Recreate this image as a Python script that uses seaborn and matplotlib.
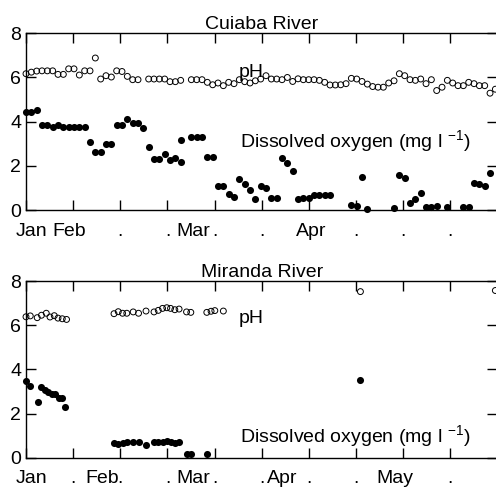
import numpy as np
import matplotlib
matplotlib.use("Agg")
import matplotlib.pyplot as plt
import matplotlib.transforms as mtransforms
import seaborn as sns

# ---------------- Cuiaba River (sampling day, value) ----------------
cuiaba_ph_day = [0, 1, 2, 3, 4, 5, 6, 7, 8, 9, 10, 11, 12, 13, 14, 15, 16, 17, 18, 19, 20, 21,
                 23, 24, 25, 26, 27, 28, 29,
                 31, 32, 33, 34, 35, 36, 37, 38, 39, 40, 41,
                 42, 43, 44, 45, 46, 47, 48, 49, 50, 51, 52, 53, 54, 55, 56, 57, 58, 59, 60,
                 61, 62, 63, 64, 65, 66, 67, 68, 69, 70, 71, 72, 73, 74, 75, 76, 77, 78, 79,
                 80, 81, 82, 83, 84, 85, 86, 87, 88]
cuiaba_ph = [6.16, 6.23, 6.28, 6.29, 6.29, 6.29, 6.13, 6.13, 6.38, 6.38, 6.10, 6.29, 6.29,
             6.87, 5.92, 6.07, 6.01, 6.29, 6.26, 6.04, 5.89, 5.89,
             5.92, 5.92, 5.92, 5.92, 5.80, 5.80, 5.86,
             5.89, 5.89, 5.89, 5.77, 5.66, 5.74, 5.62, 5.77, 5.71, 5.89, 5.80,
             5.74, 5.84, 5.92, 6.07, 5.92, 5.92, 5.89, 5.99, 5.81, 5.93, 5.89, 5.89, 5.89,
             5.86, 5.77, 5.65, 5.65, 5.66, 5.71,
             5.95, 5.92, 5.81, 5.69, 5.58, 5.55, 5.55, 5.74, 5.84, 6.16, 6.07, 5.89, 5.86,
             5.92, 5.71, 5.89, 5.40, 5.55, 5.86,
             5.74, 5.62, 5.62, 5.77, 5.71, 5.62, 5.62, 5.28, 5.46]

cuiaba_do_day = [0, 1, 2, 3, 4, 5, 6, 7, 8, 9, 10, 11, 12, 13, 14, 15, 16, 17, 18, 19, 20, 21,
                 22, 23, 24, 25, 26, 27, 28, 29, 29.1,
                 31, 32, 33, 34, 35, 36, 37, 38, 39, 40, 41, 42, 43, 44, 45, 46, 47, 48, 49,
                 50, 51, 52, 53, 54, 55, 56, 57,
                 61, 62, 63, 64, 69, 70, 71, 72, 73, 74, 75, 76, 77, 79, 82, 83, 84, 85, 86, 87]
cuiaba_do = [4.42, 4.42, 4.53, 3.85, 3.85, 3.77, 3.82, 3.73, 3.73, 3.73, 3.73, 3.73, 3.09,
             2.61, 2.61, 2.97, 2.97, 3.85, 3.85, 4.12, 3.95, 3.95,
             3.70, 2.87, 2.29, 2.29, 2.52, 2.25, 2.37, 2.16, 3.17,
             3.28, 3.28, 3.31, 2.38, 2.38, 1.10, 1.10, 0.72, 0.57, 1.39, 1.18, 0.91, 0.50,
             1.10, 0.98, 0.53, 0.53, 2.34, 2.11,
             1.78, 0.50, 0.53, 0.56, 0.68, 0.68, 0.68, 0.68,
             0.23, 0.20, 1.48, 0.05, 0.08, 1.58, 1.43, 0.30, 0.50, 0.78, 0.15, 0.15, 0.20,
             0.15, 0.12, 0.12, 1.21, 1.18, 1.10, 1.66]

# ---------------- Miranda River ----------------
miranda_ph_day = [0, 0.8, 2.1, 2.9, 3.8, 4.5, 5.3, 6.0, 6.8, 7.6,
                  16.5, 17.3, 18.1, 18.9, 20.1, 21.1, 22.5, 24.0, 24.8, 25.6, 26.4, 27.1,
                  27.9, 28.7, 30.1, 30.9, 33.9, 34.7, 35.4, 37.0, 62.7, 88.0]
miranda_ph = [6.38, 6.42, 6.34, 6.45, 6.54, 6.37, 6.43, 6.32, 6.29, 6.26,
              6.52, 6.61, 6.54, 6.54, 6.60, 6.54, 6.64, 6.60, 6.67, 6.76, 6.79, 6.76,
              6.70, 6.73, 6.60, 6.58, 6.58, 6.63, 6.66, 6.64, 7.52, 7.57]

miranda_do_day = [0, 0.75, 2.2, 2.9, 3.6, 4.2, 4.8, 5.4, 6.2, 6.8, 7.4,
                  16.5, 17.3, 18.1, 18.9, 20.1, 21.1, 22.5, 24.0, 24.8, 25.6, 26.4, 27.1,
                  27.9, 28.7, 30.1, 30.9, 33.9, 62.7]
miranda_do = [3.47, 3.25, 2.54, 3.21, 3.06, 2.96, 2.87, 2.87, 2.72, 2.72, 2.28,
              0.68, 0.62, 0.65, 0.69, 0.72, 0.72, 0.59, 0.71, 0.72, 0.72, 0.74, 0.72,
              0.65, 0.71, 0.18, 0.18, 0.18, 3.52]

# ---------------- axis labelling ----------------
titles = ["Cuiaba River", "Miranda River"]
month_names = [["Jan", "Feb", "Mar", "Apr"], ["Jan", "Feb", "Mar", "Apr", "May"]]
month_pos = [[1.0, 8.1, 31.3, 53.5], [1.0, 14.3, 31.3, 48.0, 69.2]]
dot_ticks = [[2, 3, 4, 5, 7, 8, 9], [1, 2, 3, 4, 5, 6, 7, 9]]
y_ticks = [0, 2, 4, 6, 8]

X_SPAN = 88.4
x_ticks = np.linspace(0, X_SPAN, 11)

sns.set_theme(style="ticks", rc={
    "axes.edgecolor": "black", "axes.linewidth": 1.0,
    "xtick.color": "black", "ytick.color": "black",
    "text.color": "black", "axes.labelcolor": "black",
})
plt.rcParams["font.family"] = ["Liberation Sans", "DejaVu Sans"]
plt.rcParams["mathtext.fontset"] = "custom"
plt.rcParams["mathtext.rm"] = "Liberation Sans"
plt.rcParams["mathtext.it"] = "Liberation Sans:italic"

FS = 14
W, H = 496, 487
fig = plt.figure(figsize=(W / 100, H / 100), dpi=100)
ax_top = fig.add_axes([26 / W, 1 - 210 / H, 471.5 / W, 177 / H])
ax_bot = fig.add_axes([26 / W, 1 - 457.7 / H, 471.5 / W, 176.7 / H])

panels = [
    (ax_top, cuiaba_ph_day, cuiaba_ph, cuiaba_do_day, cuiaba_do, (6.0, 2.86)),
    (ax_bot, miranda_ph_day, miranda_ph, miranda_do_day, miranda_do, (6.1, 0.72)),
]

for i, (ax, phx, phy, dox, doy, (ph_y, do_y)) in enumerate(panels):
    sns.scatterplot(x=phx, y=phy, ax=ax, marker="o", s=18, color="black",
                    facecolor="none", edgecolor="black", linewidth=0.7,
                    clip_on=False, zorder=3)
    sns.scatterplot(x=dox, y=doy, ax=ax, marker="o", s=26, color="black",
                    edgecolor="black", linewidth=0, clip_on=False, zorder=3)

    ax.set_xlim(0, X_SPAN)
    ax.set_ylim(0, 8)
    ax.set_yticks(y_ticks)
    ax.set_xticks(x_ticks)
    ax.set_xticklabels([""] * len(x_ticks))
    ax.tick_params(which="both", direction="in", length=7, width=1.0,
                   top=True, right=True, labelsize=FS, pad=3.5)
    for side in ["top", "right", "bottom", "left"]:
        ax.spines[side].set_visible(True)
        ax.spines[side].set_linewidth(1.0)

    ax.set_title(titles[i], fontsize=FS, pad=3)

    # month names and dot markers under the x axis share one baseline
    lab_tr = mtransforms.offset_copy(ax.get_xaxis_transform(), fig=fig,
                                     y=-18.5, units="points")
    for name, pos in zip(month_names[i], month_pos[i]):
        ax.text(pos, 0, name, transform=lab_tr, ha="center", va="baseline",
                fontsize=FS, clip_on=False)
    for k in dot_ticks[i]:
        ax.text(x_ticks[k], 0, ".", transform=lab_tr, ha="center",
                va="baseline", fontsize=FS, clip_on=False)

    ax.text(39.8, ph_y, "pH", fontsize=FS, ha="left", va="baseline")
    ax.text(40.2, do_y, "Dissolved oxygen (mg l $^{-1}$)", fontsize=FS,
            ha="left", va="baseline")

fig.savefig("out.png", dpi=100)
